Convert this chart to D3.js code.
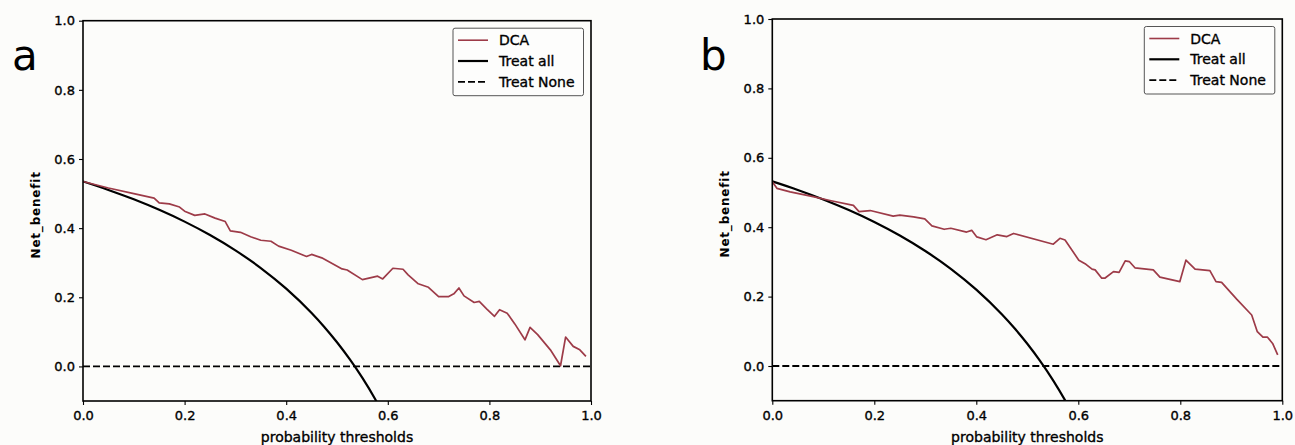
<!DOCTYPE html>
<html>
<head>
<meta charset="utf-8">
<script src="https://cdn.jsdelivr.net/npm/d3@7/dist/d3.min.js"></script>
<style>
  html, body { margin: 0; padding: 0; background: #fcfcfa; }
  svg { display: block; }
  text { font-family: "DejaVu Sans", sans-serif; fill: #000; }
  .heavy { stroke: #000; stroke-width: 0.35px; }
</style>
</head>
<body>
<svg id="chart" width="1295" height="445"></svg>
<script>
// ---------- DATA ----------
const xTicks = [0.0, 0.2, 0.4, 0.6, 0.8, 1.0];
const yTicks = [0.0, 0.2, 0.4, 0.6, 0.8, 1.0];
const xDomain = [0, 1];
const yDomain = [-0.1, 1.0];
const legendLabels = ["DCA", "Treat all", "Treat None"];
const panelLetters = ["a", "b"];
const xLabel = "probability thresholds";
const yLabel = "Net_benefit";

// Panel a: DCA curve
const thresholdsA = [0.00, 0.05, 0.10, 0.14, 0.15, 0.17, 0.19, 0.20, 0.22, 0.24, 0.26, 0.28, 0.29, 0.31, 0.33, 0.35, 0.37, 0.385, 0.41, 0.44, 0.45, 0.47, 0.51, 0.52, 0.55, 0.58, 0.59, 0.61, 0.63, 0.64, 0.66, 0.68, 0.70, 0.72, 0.73, 0.74, 0.75, 0.77, 0.78, 0.795, 0.81, 0.82, 0.835, 0.85, 0.87, 0.88, 0.895, 0.92, 0.94, 0.95, 0.965, 0.978, 0.99];
const dcaA = [0.535, 0.516, 0.500, 0.487, 0.473, 0.470, 0.461, 0.449, 0.437, 0.441, 0.429, 0.419, 0.392, 0.388, 0.375, 0.365, 0.362, 0.348, 0.336, 0.318, 0.324, 0.314, 0.282, 0.279, 0.251, 0.261, 0.253, 0.284, 0.281, 0.265, 0.239, 0.229, 0.202, 0.202, 0.210, 0.227, 0.204, 0.185, 0.188, 0.166, 0.145, 0.164, 0.154, 0.123, 0.077, 0.113, 0.092, 0.048, 0.002, 0.085, 0.058, 0.048, 0.029];

// Panel b: DCA curve
const thresholdsB = [0.000, 0.009, 0.035, 0.080, 0.113, 0.159, 0.170, 0.192, 0.237, 0.250, 0.277, 0.299, 0.313, 0.337, 0.350, 0.381, 0.391, 0.401, 0.419, 0.441, 0.460, 0.473, 0.551, 0.564, 0.574, 0.601, 0.615, 0.627, 0.633, 0.646, 0.652, 0.669, 0.680, 0.692, 0.700, 0.711, 0.747, 0.760, 0.799, 0.811, 0.829, 0.858, 0.870, 0.881, 0.911, 0.940, 0.951, 0.962, 0.971, 0.981, 0.991];
const dcaB = [0.531, 0.512, 0.502, 0.488, 0.477, 0.463, 0.445, 0.448, 0.432, 0.435, 0.430, 0.424, 0.404, 0.394, 0.397, 0.386, 0.391, 0.372, 0.364, 0.378, 0.373, 0.382, 0.351, 0.368, 0.363, 0.305, 0.293, 0.279, 0.277, 0.253, 0.253, 0.272, 0.270, 0.303, 0.301, 0.283, 0.277, 0.256, 0.243, 0.305, 0.279, 0.275, 0.243, 0.241, 0.192, 0.147, 0.099, 0.083, 0.083, 0.065, 0.032];

// Treat all curves
const treatAllT = [0.00, 0.05, 0.10, 0.15, 0.20, 0.25, 0.30, 0.35, 0.40, 0.45, 0.475, 0.50, 0.525, 0.55, 0.575, 0.60];
const treatAllA = [0.535, 0.5105, 0.4833, 0.4529, 0.4188, 0.380, 0.3357, 0.2846, 0.225, 0.1545, 0.1143, 0.070, 0.0210, -0.0333, -0.0941, -0.1625];
const treatAllB = [0.532, 0.5074, 0.480, 0.4494, 0.415, 0.376, 0.3314, 0.280, 0.220, 0.149, 0.1086, 0.064, 0.0147, -0.040, -0.1012, -0.170];

// Treat none
const treatNoneT = [0, 1];
const treatNoneV = [0, 0];

// ---------- LAYOUT ----------
const panels = [
  { letter: panelLetters[0], t: thresholdsA, dca: dcaA, all: treatAllA,
    left: 83, right: 591, top: 20.7, bottom: 401, letterX: 12, letterY: 70 },
  { letter: panelLetters[1], t: thresholdsB, dca: dcaB, all: treatAllB,
    left: 772.3, right: 1282.3, top: 19, bottom: 400.7, letterX: 700, letterY: 70 }
];
const redColor = "#9d3b48";
const svg = d3.select("#chart");

panels.forEach((p, i) => {
  const x = d3.scaleLinear().domain(xDomain).range([p.left, p.right]);
  const y = d3.scaleLinear().domain(yDomain).range([p.bottom, p.top]);
  const g = svg.append("g");

  const clipId = "clip" + i;
  g.append("clipPath").attr("id", clipId).append("rect")
    .attr("x", p.left).attr("y", p.top)
    .attr("width", p.right - p.left).attr("height", p.bottom - p.top);

  const plot = g.append("g").attr("clip-path", `url(#${clipId})`);

  // Treat None
  plot.append("path")
    .datum(treatNoneT.map((t, k) => [t, treatNoneV[k]]))
    .attr("d", d3.line().x(d => x(d[0])).y(d => y(d[1])))
    .attr("fill", "none").attr("stroke", "#000").attr("stroke-width", 1.8)
    .attr("stroke-dasharray", "7,3");

  // Treat all
  plot.append("path")
    .datum(treatAllT.map((t, k) => [t, p.all[k]]))
    .attr("d", d3.line().curve(d3.curveMonotoneX).x(d => x(d[0])).y(d => y(d[1])))
    .attr("fill", "none").attr("stroke", "#000").attr("stroke-width", 2.2);

  // DCA
  plot.append("path")
    .datum(p.t.map((t, k) => [t, p.dca[k]]))
    .attr("d", d3.line().x(d => x(d[0])).y(d => y(d[1])))
    .attr("fill", "none").attr("stroke", redColor).attr("stroke-width", 1.7)
    .attr("stroke-linejoin", "round");

  // Axes
  const xAxis = d3.axisBottom(x).tickValues(xTicks).tickFormat(d3.format(".1f"))
    .tickSizeInner(4).tickSizeOuter(0).tickPadding(4);
  const yAxis = d3.axisLeft(y).tickValues(yTicks).tickFormat(d3.format(".1f"))
    .tickSizeInner(4).tickSizeOuter(0).tickPadding(4);

  const gx = g.append("g").attr("transform", `translate(0,${p.bottom})`).call(xAxis);
  const gy = g.append("g").attr("transform", `translate(${p.left},0)`).call(yAxis);
  [gx, gy].forEach(ax => {
    ax.select(".domain").remove();
    ax.selectAll(".tick line").attr("stroke", "#000").attr("stroke-width", 1.1);
    ax.selectAll(".tick text").attr("font-size", 13).attr("font-family", "DejaVu Sans")
      .attr("fill", "#000").attr("class", "heavy");
  });
  gx.selectAll(".tick text").attr("dy", "0.85em");

  // Frame
  g.append("rect")
    .attr("x", p.left).attr("y", p.top)
    .attr("width", p.right - p.left).attr("height", p.bottom - p.top)
    .attr("fill", "none").attr("stroke", "#000").attr("stroke-width", 1.6);

  // Axis labels
  g.append("text")
    .attr("x", (p.left + p.right) / 2).attr("y", p.bottom + 41)
    .attr("text-anchor", "middle").attr("font-size", 14).attr("class", "heavy")
    .text(xLabel);
  g.append("text")
    .attr("transform", `translate(${p.left - 43},${(p.top + p.bottom) / 2 + 4}) rotate(-90)`)
    .attr("text-anchor", "middle").attr("font-size", 12).attr("font-weight", "bold")
    .attr("letter-spacing", 0.8)
    .text(yLabel);

  // Panel letter
  g.append("text")
    .attr("x", p.letterX).attr("y", p.letterY)
    .attr("font-family", "Liberation Sans, Arial, sans-serif")
    .attr("font-size", 42)
    .text(p.letter);

  // Legend
  const lx = p.right - 138, ly = p.top + 7.5;
  const lg = g.append("g");
  lg.append("rect")
    .attr("x", lx).attr("y", ly).attr("width", 130.5).attr("height", 67.5)
    .attr("rx", 2).attr("fill", "#fdfdfc").attr("stroke", "#555").attr("stroke-width", 1);
  const styles = [
    { stroke: redColor, w: 1.6, dash: null },
    { stroke: "#000", w: 2.2, dash: null },
    { stroke: "#000", w: 1.8, dash: "7,3" }
  ];
  legendLabels.forEach((lab, k) => {
    const cy = ly + 12 + k * 20.8;
    lg.append("line")
      .attr("x1", lx + 5).attr("x2", lx + 35).attr("y1", cy).attr("y2", cy)
      .attr("stroke", styles[k].stroke).attr("stroke-width", styles[k].w)
      .attr("stroke-dasharray", styles[k].dash);
    lg.append("text")
      .attr("x", lx + 46).attr("y", cy).attr("dy", "0.36em")
      .attr("font-size", 14).attr("class", "heavy").text(lab);
  });
});
</script>
</body>
</html>
